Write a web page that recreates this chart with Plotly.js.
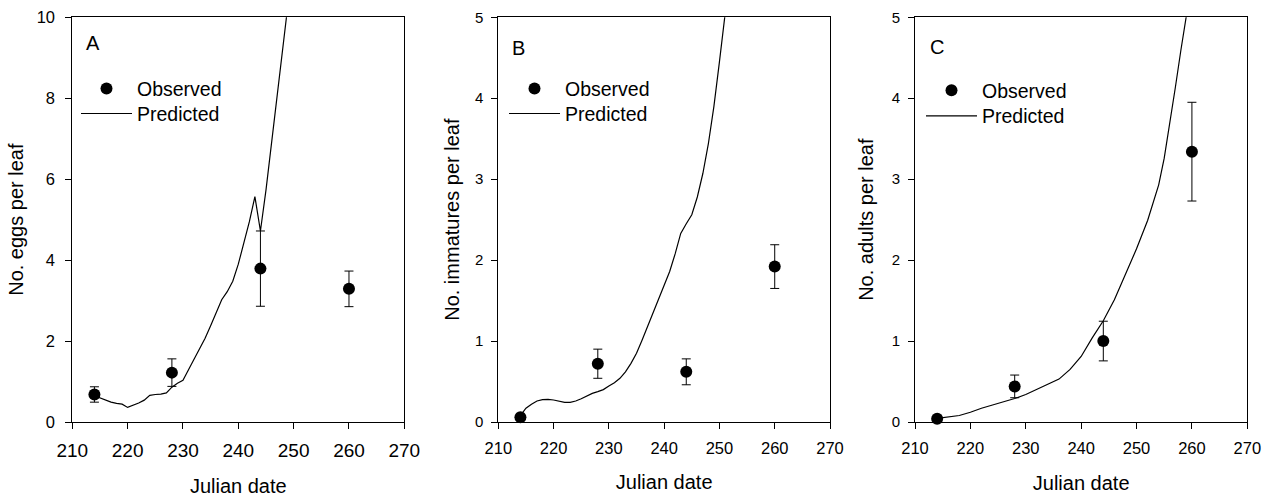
<!DOCTYPE html>
<html>
<head>
<meta charset="utf-8">
<script src="https://cdn.plot.ly/plotly-3.0.1.min.js"></script>
<style>html,body{margin:0;padding:0;background:#fff}#chart{width:1268px;height:497px}</style>
</head>
<body>
<div id="chart"></div>
<script>
// ---- Data ----
const obsDays = [214, 228, 244, 260];

const eggsObs = [0.68, 1.22, 3.79, 3.29];
const eggsErr = [0.19, 0.34, 0.93, 0.44];
const eggsPredDays = [214,215,216,217,218,219,220,221,222,223,224,225,226,227,228,229,230,231,232,233,234,235,236,237,238,239,240,241,242,243,244,245,246,247,248,249,250];
const eggsPred = [0.65,0.60,0.54,0.49,0.46,0.44,0.36,0.41,0.47,0.54,0.66,0.68,0.69,0.72,0.86,0.96,1.03,1.29,1.55,1.81,2.07,2.38,2.68,3.02,3.22,3.48,3.90,4.42,4.95,5.57,4.72,5.73,6.89,7.96,9.11,10.3,11.5];

const immObs = [0.06, 0.72, 0.62, 1.92];
const immErr = [0.02, 0.18, 0.16, 0.27];
const immPredDays = [214,215,216,217,218,219,220,221,222,223,224,225,226,227,228,229,230,231,232,233,234,235,236,237,238,239,240,241,242,243,244,245,246,247,248,249,250,251,252];
const immPred = [0.08,0.17,0.22,0.26,0.276,0.28,0.272,0.255,0.243,0.243,0.26,0.288,0.325,0.354,0.375,0.40,0.445,0.486,0.54,0.62,0.725,0.85,1.01,1.18,1.34,1.51,1.67,1.86,2.08,2.33,2.45,2.56,2.78,3.07,3.44,3.90,4.45,5.0,5.6];

const adultObs = [0.04, 0.44, 1.00, 3.34];
const adultErr = [0.01, 0.14, 0.245, 0.61];
const adultPredDays = [214,216,218,220,222,224,226,228,230,232,234,236,238,240,242,244,246,248,250,252,254,255,256,257,258,259,260];
const adultPred = [0.045,0.058,0.08,0.12,0.17,0.21,0.25,0.29,0.34,0.40,0.46,0.53,0.65,0.81,1.04,1.25,1.51,1.82,2.14,2.49,2.93,3.26,3.68,4.13,4.59,5.0,5.45];

const xTickVals = [210,220,230,240,250,260,270];
const panelLetters = ['A','B','C'];
const yTitles = ['No. eggs per leaf','No. immatures per leaf','No. adults per leaf'];
const xTitle = 'Julian date';
const seriesNames = ['Observed', 'Predicted'];

// ---- Layout geometry ----
const W = 1268, H = 497;
const FONT = 'Arial, "Liberation Sans", sans-serif';
const px = v => v / W;
const py = v => 1 - v / H;
const xDom = [[72.3, 404.3], [498.3, 830], [915, 1247.3]];
const yDom = [py(422), py(17.3)];

function obsTrace(i, y, err, legendId) {
  return {
    x: obsDays, y: y, type: 'scatter', mode: 'markers', name: seriesNames[0],
    xaxis: 'x' + (i ? i + 1 : ''), yaxis: 'y' + (i ? i + 1 : ''),
    legend: legendId, cliponaxis: false,
    marker: {color: 'black', size: 12},
    error_y: {type: 'data', array: err, visible: true, color: 'black', thickness: 1, width: 4.5}
  };
}
function predTrace(i, x, y, legendId) {
  return {
    x: x, y: y, type: 'scatter', mode: 'lines', name: seriesNames[1],
    xaxis: 'x' + (i ? i + 1 : ''), yaxis: 'y' + (i ? i + 1 : ''),
    legend: legendId,
    line: {color: 'black', width: 1.2}
  };
}

const data = [
  obsTrace(0, eggsObs, eggsErr, 'legend'),
  predTrace(0, eggsPredDays, eggsPred, 'legend2'),
  obsTrace(1, immObs, immErr, 'legend3'),
  predTrace(1, immPredDays, immPred, 'legend4'),
  obsTrace(2, adultObs, adultErr, 'legend5'),
  predTrace(2, adultPredDays, adultPred, 'legend6')
];

function xAxis(i, tickSize, standoff) {
  return {
    domain: [px(xDom[i][0]), px(xDom[i][1])],
    anchor: 'y' + (i ? i + 1 : ''),
    range: [210, 270], tickvals: xTickVals,
    showgrid: false, zeroline: false,
    showline: true, linecolor: 'black', linewidth: 1, mirror: true,
    ticks: 'outside', ticklen: 6, tickwidth: 1, tickcolor: 'black',
    ticklabelstandoff: 5,
    tickfont: {family: FONT, size: tickSize, color: 'black'},
    title: {text: xTitle, font: {family: FONT, size: 20, color: 'black'}, standoff: standoff},
    automargin: false, fixedrange: true
  };
}
function yAxis(i, maxV, dtick, tickSize, labelStandoff, standoff) {
  return {
    domain: yDom,
    anchor: 'x' + (i ? i + 1 : ''),
    range: [0, maxV], dtick: dtick,
    showgrid: false, zeroline: false,
    showline: true, linecolor: 'black', linewidth: 1, mirror: true,
    ticks: 'outside', ticklen: 6, tickwidth: 1, tickcolor: 'black',
    ticklabelstandoff: labelStandoff,
    tickfont: {family: FONT, size: tickSize, color: 'black'},
    title: {text: yTitles[i], font: {family: FONT, size: 20, color: 'black'}, standoff: standoff},
    automargin: false, fixedrange: true
  };
}
function legendAt(x, y) {
  return {
    x: px(x), y: py(y), xanchor: 'left', yanchor: 'top',
    bgcolor: 'rgba(0,0,0,0)', borderwidth: 0,
    font: {family: FONT, size: 19.5, color: 'black'},
    itemwidth: 51, tracegroupgap: 0
  };
}

const layout = {
  width: W, height: H,
  margin: {l: 0, r: 0, t: 0, b: 0, pad: 0},
  paper_bgcolor: 'white', plot_bgcolor: 'white',
  font: {family: FONT, color: 'black'},
  showlegend: true,
  xaxis: xAxis(0, 19, 21),
  xaxis2: xAxis(1, 16.5, 19),
  xaxis3: xAxis(2, 16.5, 20),
  yaxis: yAxis(0, 10, 2, 16.5, 7, 7),
  yaxis2: yAxis(1, 5, 1, 15, 5, 9),
  yaxis3: yAxis(2, 5, 1, 15, 5, 12),
  legend: legendAt(76, 69.3),
  legend2: legendAt(76, 94.3),
  legend3: legendAt(504, 69.3),
  legend4: legendAt(504, 94.3),
  legend5: legendAt(921, 71),
  legend6: legendAt(921, 96.7),
  annotations: [
    {text: panelLetters[0], x: px(93.3), y: py(43), xref: 'paper', yref: 'paper', showarrow: false, xanchor: 'center', yanchor: 'middle', font: {family: FONT, size: 20, color: 'black'}},
    {text: panelLetters[1], x: px(518), y: py(47.5), xref: 'paper', yref: 'paper', showarrow: false, xanchor: 'center', yanchor: 'middle', font: {family: FONT, size: 20, color: 'black'}},
    {text: panelLetters[2], x: px(936.7), y: py(46.7), xref: 'paper', yref: 'paper', showarrow: false, xanchor: 'center', yanchor: 'middle', font: {family: FONT, size: 20, color: 'black'}}
  ]
};

Plotly.newPlot('chart', data, layout, {staticPlot: true, displayModeBar: false});
</script>
</body>
</html>
